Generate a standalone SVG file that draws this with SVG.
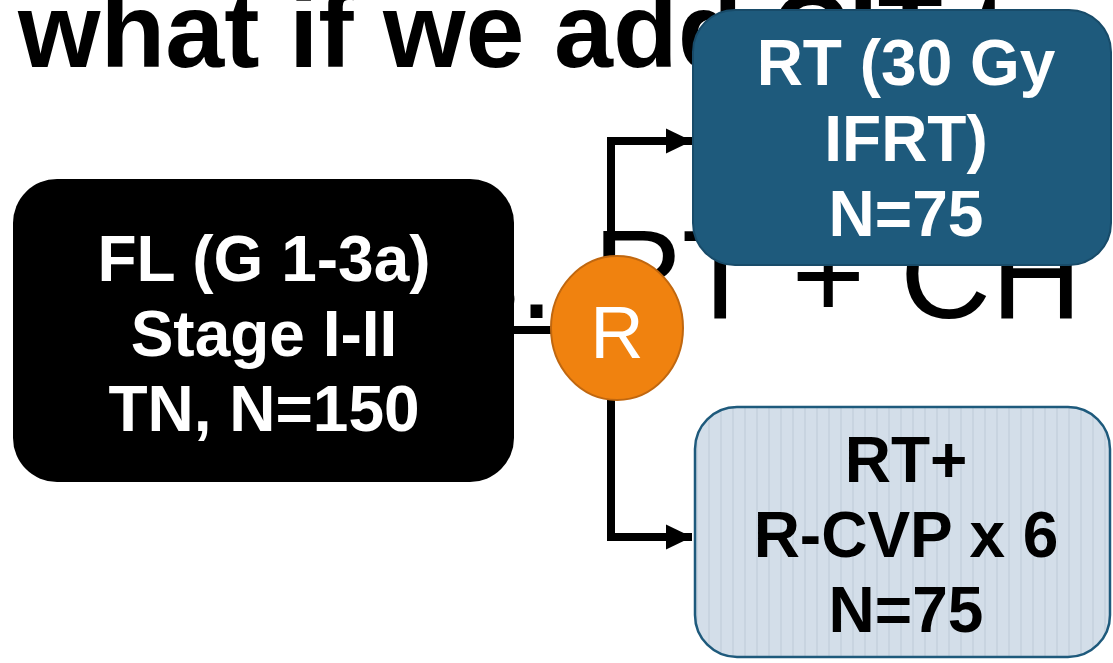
<svg xmlns="http://www.w3.org/2000/svg" width="1113" height="663" viewBox="0 0 1113 663">
  <style>
    .title { font-family: "Liberation Sans", Arial, sans-serif; font-weight: bold; font-size: 106px; fill: #000; }
    .bg { font-family: "Liberation Sans", Arial, sans-serif; font-size: 126px; fill: #000; }
    .lbl { font-family: "Liberation Sans", Arial, sans-serif; font-weight: bold; font-size: 64px; text-anchor: middle; }
    .white { fill: #fff; }
    .dark { fill: #000; }
    .conn { fill: none; stroke: #000; stroke-width: 8; stroke-linejoin: miter; }
  </style>
  <defs>
    <marker id="arrow" markerUnits="userSpaceOnUse" markerWidth="28" markerHeight="28" refX="27" refY="14" orient="auto">
      <path d="M1,1.5 L27,14 L1,26.5 Z" fill="#000"/>
    </marker>
    <pattern id="stripes" patternUnits="userSpaceOnUse" width="12" height="20">
      <rect width="12" height="20" fill="#D3DEE9"/>
      <rect x="0" width="2" height="20" fill="#C8D4E0"/>
    </pattern>
  </defs>
  <rect width="1113" height="663" fill="#fff"/>

  <g id="slide-text">
    <text class="title" x="18" y="67">what if we add CIT to</text>
    <text class="bg" y="318"><tspan x="393">vs.</tspan><tspan x="593">RT + CH</tspan></text>
  </g>

  <g id="connectors">
    <path class="conn" d="M514,330 L556,330"/>
    <path class="conn" d="M611,141 L611,537"/>
    <path class="conn" d="M607,141 L692,141" marker-end="url(#arrow)"/>
    <path class="conn" d="M607,537 L692,537" marker-end="url(#arrow)"/>
  </g>

  <g id="node-population">
    <rect x="13" y="179" width="501" height="303" rx="44" ry="44" fill="#000"/>
    <text class="lbl white" x="264" y="281">FL (G 1-3a)</text>
    <text class="lbl white" x="264" y="356">Stage I-II</text>
    <text class="lbl white" x="264" y="431">TN, N=150</text>
  </g>

  <g id="node-randomise">
    <ellipse cx="617" cy="328" rx="66" ry="72" fill="#F0820F" stroke="#C0670F" stroke-width="2"/>
    <text x="617" y="358" font-family="Liberation Sans, Arial, sans-serif" font-size="74" fill="#fff" text-anchor="middle">R</text>
  </g>

  <g id="node-rt">
    <rect x="693" y="10" width="418" height="255" rx="42" ry="42" fill="#1E5A7C" stroke="#184B69" stroke-width="2"/>
    <text class="lbl white" x="906" y="85">RT (30 Gy</text>
    <text class="lbl white" x="906" y="161">IFRT)</text>
    <text class="lbl white" x="906" y="236">N=75</text>
  </g>

  <g id="node-rt-chemo">
    <rect x="695" y="407" width="415" height="250" rx="42" ry="42" fill="url(#stripes)" stroke="#1E5A7C" stroke-width="2.5"/>
    <text class="lbl dark" x="906" y="482">RT+</text>
    <text class="lbl dark" x="906" y="557">R-CVP x 6</text>
    <text class="lbl dark" x="906" y="632">N=75</text>
  </g>
</svg>
